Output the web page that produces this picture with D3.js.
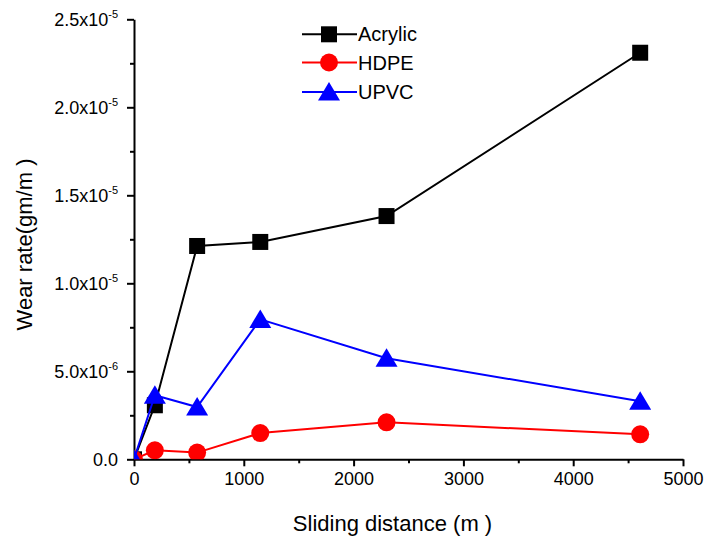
<!DOCTYPE html>
<html>
<head>
<meta charset="utf-8">
<script src="https://cdn.jsdelivr.net/npm/d3@7"></script>
<style>
  body { margin: 0; background: #fff; }
  text { font-family: Arial, "Liberation Sans", sans-serif; fill: #000; }
</style>
</head>
<body>
<svg id="chart" width="705" height="540"></svg>
<script>
// sliding distance (m) and wear rate (gm/m) for each material
const distance = [0, 190, 575, 1150, 2300, 4610];
const acrylic = [0, 3.07e-6, 1.212e-5, 1.235e-5, 1.382e-5, 2.31e-5];
const hdpe = [0, 5.1e-7, 3.8e-7, 1.49e-6, 2.1e-6, 1.42e-6];
const upvc = [0, 3.64e-6, 2.97e-6, 7.95e-6, 5.74e-6, 3.3e-6];
const seriesNames = ["Acrylic", "HDPE", "UPVC"];

const xTicks = [0, 1000, 2000, 3000, 4000, 5000];
const xMinor = [500, 1500, 2500, 3500, 4500];
const yTicks = [0, 5e-6, 1e-5, 1.5e-5, 2e-5, 2.5e-5];
const yMinor = [2.5e-6, 7.5e-6, 1.25e-5, 1.75e-5, 2.25e-5];
const yMantissa = ["0.0", "5.0x10", "1.0x10", "1.5x10", "2.0x10", "2.5x10"];
const yExponent = ["", "-6", "-5", "-5", "-5", "-5"];

const svg = d3.select("#chart");
const marginLeft = 134, marginTop = 19.3, width = 549, height = 440;

let x = d3.scaleLinear().domain([0, 5000]).range([marginLeft, marginLeft + width]);
let y = d3.scaleLinear().domain([0, 2.5e-5]).range([marginTop + height, marginTop]);

const series = [
    { name: seriesNames[0], values: acrylic, color: "#000000", shape: "square" },
    { name: seriesNames[1], values: hdpe, color: "#ff0000", shape: "circle" },
    { name: seriesNames[2], values: upvc, color: "#0000ff", shape: "triangle" }
];

// marker drawing helper
function marker(g, shape, color) {
    if (shape === "square") {
        g.append("rect").attr("x", -8).attr("y", -8).attr("width", 16).attr("height", 16)
            .attr("fill", color);
    } else if (shape === "circle") {
        g.append("circle").attr("r", 9).attr("fill", color);
    } else {
        g.append("path").attr("d", "M0,-10L11,8.5L-11,8.5Z").attr("fill", color);
    }
}

// minor ticks
svg.append("g")
    .attr("transform", "translate(0," + (marginTop + height) + ")")
    .call(d3.axisBottom(x).tickValues(xMinor).tickSize(4).tickFormat(""))
    .call(g => g.select(".domain").remove())
    .call(g => g.selectAll("line").attr("stroke-width", 2));

svg.append("g")
    .attr("transform", "translate(" + marginLeft + ",0)")
    .call(d3.axisLeft(y).tickValues(yMinor).tickSize(4).tickFormat(""))
    .call(g => g.select(".domain").remove())
    .call(g => g.selectAll("line").attr("stroke-width", 2));

// X axis
svg.append("g")
    .attr("transform", "translate(0," + (marginTop + height) + ")")
    .call(d3.axisBottom(x).tickValues(xTicks).tickSize(7).tickSizeOuter(0).tickPadding(6)
        .tickFormat(d3.format("d")))
    .call(g => g.select(".domain").attr("stroke-width", 2))
    .call(g => g.selectAll("line").attr("stroke-width", 2))
    .call(g => g.selectAll("text").attr("font-size", 18).attr("font-family", null));

// Y axis with superscript exponents
svg.append("g")
    .attr("transform", "translate(" + marginLeft + ",0)")
    .call(d3.axisLeft(y).tickValues(yTicks).tickSize(7).tickSizeOuter(0).tickPadding(9).tickFormat(""))
    .call(g => g.select(".domain").attr("stroke-width", 2))
    .call(g => g.selectAll("line").attr("stroke-width", 2))
    .call(g => g.selectAll(".tick text").each(function (d, i) {
        let t = d3.select(this).attr("font-size", 18).attr("font-family", null).attr("dy", "0.35em");
        t.append("tspan").text(yMantissa[i]);
        if (yExponent[i]) {
            t.append("tspan").attr("font-size", 11).attr("dy", -8).text(yExponent[i]);
        }
    }));

// clip to plot area
svg.append("clipPath").attr("id", "plotClip")
    .append("rect").attr("x", marginLeft).attr("y", 0).attr("width", width + 30).attr("height", marginTop + height);

const plot = svg.append("g").attr("clip-path", "url(#plotClip)");

series.forEach(s => {
    let line = d3.line().x((d, i) => x(distance[i])).y(d => y(d));
    plot.append("path")
        .datum(s.values)
        .attr("d", line)
        .attr("fill", "none")
        .attr("stroke", s.color)
        .attr("stroke-width", 2);
    s.values.forEach((v, i) => {
        let g = plot.append("g").attr("transform", "translate(" + x(distance[i]) + "," + y(v) + ")");
        marker(g, s.shape, s.color);
    });
});

// Legend
const legendY = [34.3, 62.5, 92];
series.forEach((s, i) => {
    let g = svg.append("g").attr("transform", "translate(0," + legendY[i] + ")");
    g.append("line").attr("x1", 302).attr("x2", 357).attr("y1", 0).attr("y2", 0)
        .attr("stroke", s.color).attr("stroke-width", 2);
    let m = g.append("g").attr("transform", "translate(329,0)");
    marker(m, s.shape, s.color);
    g.append("text").attr("x", 358).attr("y", 7).attr("font-size", 20).text(s.name);
});

// X-axis title
svg.append("text")
    .attr("text-anchor", "middle")
    .attr("x", 392.5)
    .attr("y", 531)
    .attr("font-size", 22)
    .text("Sliding distance (m )");

// Y-axis title
svg.append("text")
    .attr("text-anchor", "middle")
    .attr("transform", "translate(32,244.5) rotate(-90)")
    .attr("font-size", 22)
    .text("Wear rate(gm/m )");
</script>
</body>
</html>
